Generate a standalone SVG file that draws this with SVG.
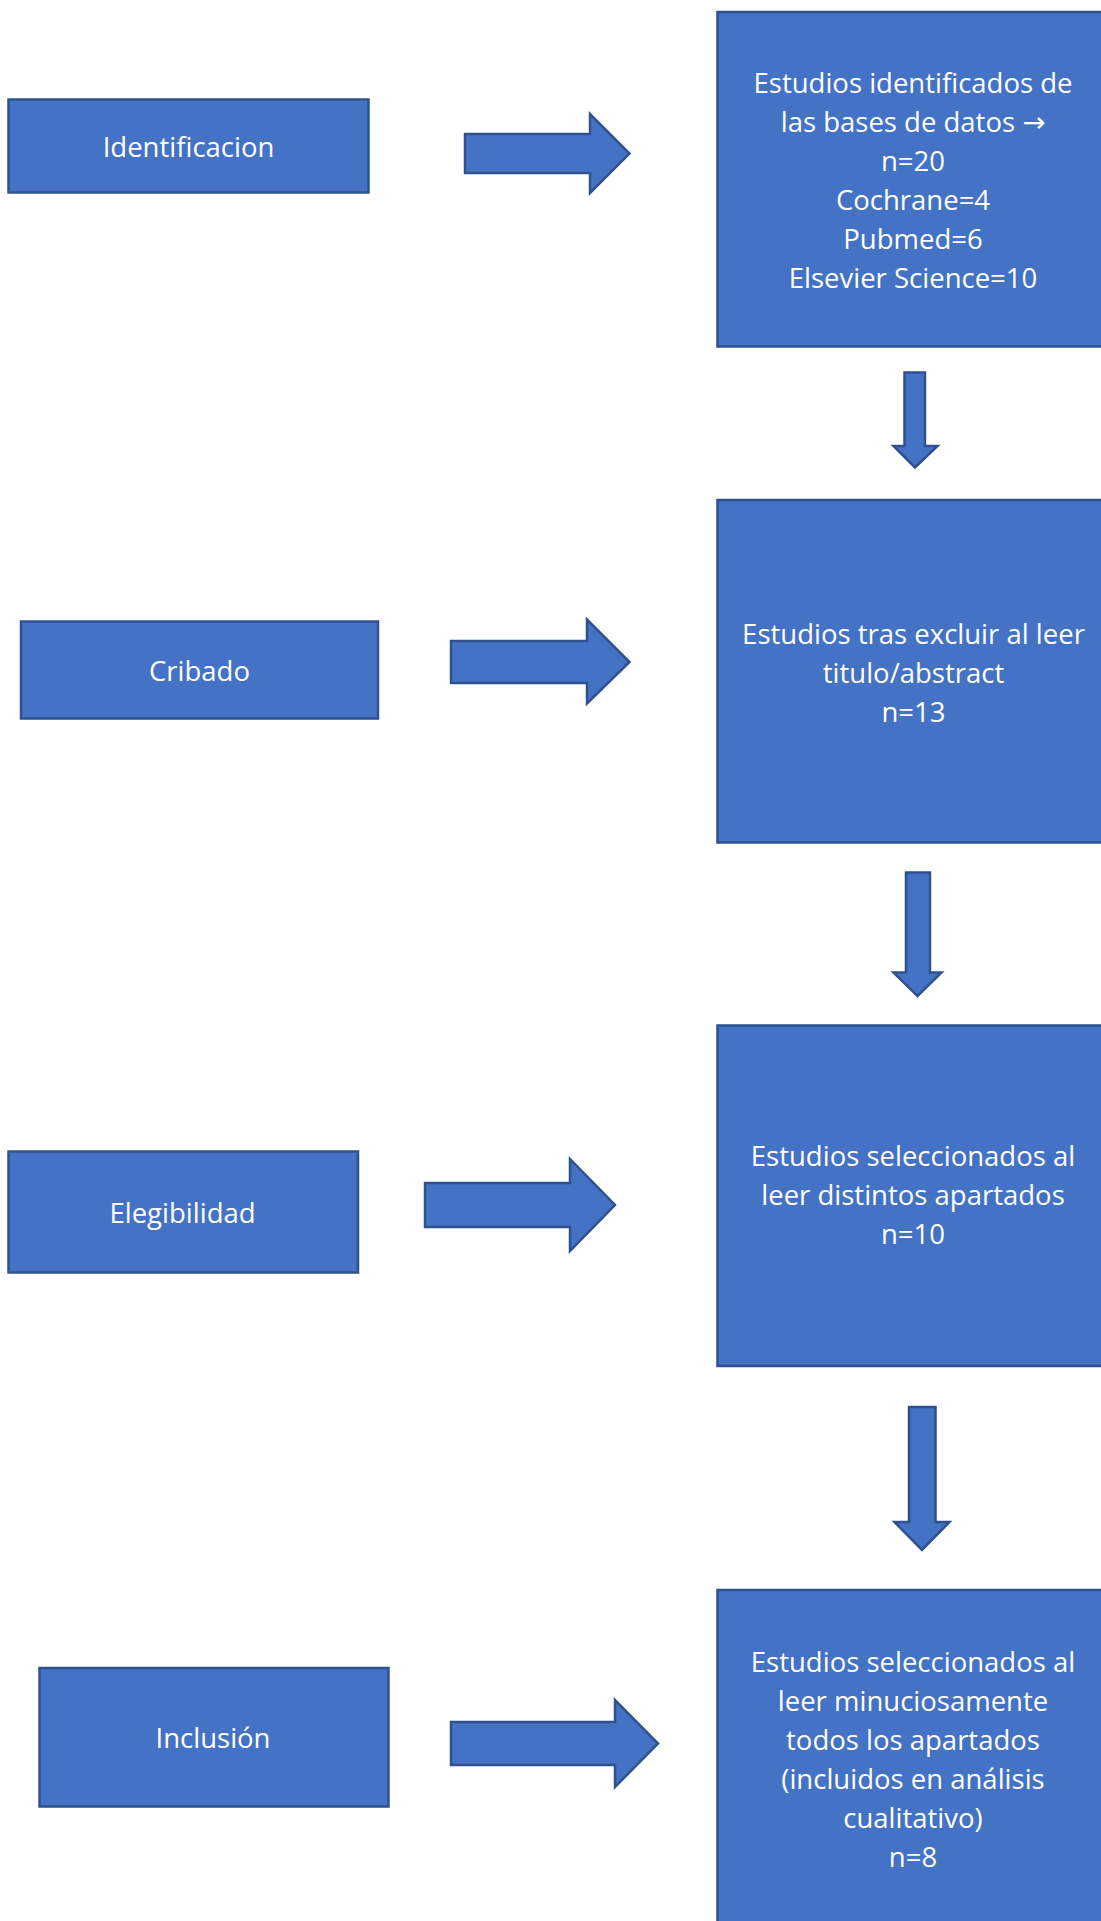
<svg xmlns="http://www.w3.org/2000/svg" width="1101" height="1921" viewBox="0 0 1101 1921">
<style>
.box{fill:#4472C4;stroke:#2F528F;stroke-width:2.5}
.arr{fill:#4472C4;stroke:#2F528F;stroke-width:2.5;stroke-linejoin:miter}
text{font-family:"Open Sans","Noto Sans","Liberation Sans",sans-serif;font-size:27.5px;fill:#FFFFFF;text-anchor:middle}
.sym{font-family:"DejaVu Sans",sans-serif}
</style>
<rect x="0" y="0" width="1101" height="1921" fill="#FFFFFF"/>
<g id="identificacion">
<rect class="box" x="8.5" y="99.5" width="360" height="93"/>
<text x="188.5" y="157">Identificacion</text>
</g>
<g id="cribado">
<rect class="box" x="21" y="621.5" width="357" height="97"/>
<text x="199.5" y="681">Cribado</text>
</g>
<g id="elegibilidad">
<rect class="box" x="8.5" y="1151.5" width="349.5" height="121"/>
<text x="182.5" y="1223">Elegibilidad</text>
</g>
<g id="inclusion">
<rect class="box" x="39.5" y="1668" width="349" height="138.5"/>
<text x="213" y="1748">Inclusión</text>
</g>
<g id="estudios-identificados">
<rect class="box" x="717.5" y="12" width="395" height="334.5"/>
<text x="913" y="92.5">Estudios identificados de</text>
<text x="913" y="131.5">las bases de datos <tspan class="sym">→</tspan></text>
<text x="913" y="170.5">n=20</text>
<text x="913" y="209.5">Cochrane=4</text>
<text x="913" y="248.5">Pubmed=6</text>
<text x="913" y="287.5">Elsevier Science=10</text>
</g>
<g id="estudios-tras-excluir">
<rect class="box" x="717.5" y="500" width="395" height="342.5"/>
<text x="913.5" y="643.5">Estudios tras excluir al leer</text>
<text x="913.5" y="682.5">titulo/abstract</text>
<text x="913.5" y="721.5">n=13</text>
</g>
<g id="estudios-seleccionados">
<rect class="box" x="717.5" y="1025.5" width="395" height="340.5"/>
<text x="913" y="1166">Estudios seleccionados al</text>
<text x="913" y="1205">leer distintos apartados</text>
<text x="913" y="1244">n=10</text>
</g>
<g id="estudios-incluidos">
<rect class="box" x="717.5" y="1590" width="395" height="345"/>
<text x="913" y="1672">Estudios seleccionados al</text>
<text x="913" y="1711">leer minuciosamente</text>
<text x="913" y="1750">todos los apartados</text>
<text x="913" y="1789">(incluidos en análisis</text>
<text x="913" y="1828">cualitativo)</text>
<text x="913" y="1867">n=8</text>
</g>
<g id="connectors">
<path class="arr" d="M465,134 H590 V114 L629.5,153.5 L590,193 V173 H465 Z"/>
<path class="arr" d="M451,641 H587 V619.5 L629.5,662 L587,703.5 V683 H451 Z"/>
<path class="arr" d="M425,1183 H570 V1159 L615,1205 L570,1251 V1227 H425 Z"/>
<path class="arr" d="M451,1722 H615 V1700 L658,1743.5 L615,1787 V1765 H451 Z"/>
<path class="arr" d="M904.5,372.5 H925 V446 H937.5 L915,467.5 L893.5,446 H904.5 Z"/>
<path class="arr" d="M906,872.5 H930 V972.5 H941.5 L917.5,996 L893.5,972.5 H906 Z"/>
<path class="arr" d="M909,1407 H935.5 V1522 H949.5 L922,1550 L894.5,1522 H909 Z"/>
</g>
</svg>
